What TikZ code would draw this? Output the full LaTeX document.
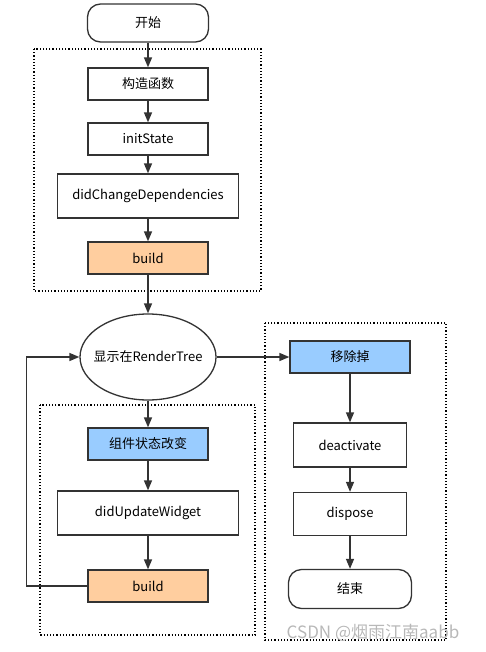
\documentclass[tikz,border=0pt]{standalone}
\usepackage{fontspec}
\newfontfamily\cjk{Noto Sans CJK SC}
\usetikzlibrary{arrows.meta,positioning,shapes.geometric}
\definecolor{lcDark}{HTML}{333333}
\definecolor{lcOrange}{HTML}{FFCE9F}
\definecolor{lcBlue}{HTML}{99CCFF}
\definecolor{lcMark}{HTML}{B8B8B8}
\tikzset{
  lc box/.style={draw=lcDark, line width=1.3pt, fill=white, minimum height=32pt,
    minimum width=120pt, inner sep=0pt, font=\cjk\fontsize{13}{15}\selectfont},
  lc term/.style={lc box, rounded corners=13pt, minimum width=121pt, minimum height=38pt},
  lc frame/.style={draw=black, line width=1.2pt, dotted},
  lc arrow/.style={lcDark, line width=1.4pt, -{Triangle[length=10pt,width=8pt]}},
}

\begin{document}
\begin{tikzpicture}[x=1pt, y=-1pt, line join=miter]
  % fixed page: 485 x 652
  \useasboundingbox (0,0) rectangle (485,652);

  % --- dotted group frames ---
  \draw[lc frame] (34,49) rectangle (261,291);
  \draw[lc frame] (40,405) rectangle (255,635);
  \draw[lc frame] (265,323) rectangle (446,640);

  % --- creation ---
  \node[lc term] (start) at (148,23) {开始};
  \node[lc box] (ctor) at (148,84) {构造函数};
  \node[lc box] (init) at (148,139) {initState};
  \node[lc box, minimum width=181pt, minimum height=44pt] (deps) at (148,196)
    {didChangeDependencies};
  \node[lc box, fill=lcOrange] (buildA) at (148,258) {build};

  % --- displayed ---
  \node[ellipse, draw=lcDark, line width=1.3pt, fill=white, minimum width=136pt,
        minimum height=86pt, inner xsep=-9pt, inner ysep=0pt,
        font=\cjk\fontsize{13}{15}\selectfont]
    (shown) at (148,357) {显示在RenderTree};

  % --- update ---
  \node[lc box, fill=lcBlue] (change) at (148,444) {组件状态改变};
  \node[lc box, minimum width=181pt, minimum height=44pt] (update) at (148,513)
    {didUpdateWidget};
  \node[lc box, fill=lcOrange] (buildB) at (148,586) {build};

  % --- removal ---
  \node[lc box, fill=lcBlue] (remove) at (350,357) {移除掉};
  \node[lc box, minimum width=113pt, minimum height=44pt] (deact) at (350,445)
    {deactivate};
  \node[lc box, minimum width=113pt, minimum height=43pt] (dispose) at (350,514)
    {dispose};
  \node[lc term, minimum width=123pt, minimum height=39pt] (finish) at (350,589) {结束};

  % --- connectors ---
  \draw[lc arrow] (start) -- (ctor);
  \draw[lc arrow] (ctor) -- (init);
  \draw[lc arrow] (init) -- (deps);
  \draw[lc arrow] (deps) -- (buildA);
  \draw[lc arrow] (buildA) -- (shown);
  \draw[lc arrow] (shown) -- (change);
  \draw[lc arrow] (change) -- (update);
  \draw[lc arrow] (update) -- (buildB);
  \draw[lc arrow] (buildB.west) -- ++(-61,0) |- (shown.west);
  \draw[lc arrow] (shown.east) -- (remove.west);
  \draw[lc arrow] (remove) -- (deact);
  \draw[lc arrow] (deact) -- (dispose);
  \draw[lc arrow] (dispose) -- (finish);

  % watermark
  \node[lcMark, font=\cjk\fontsize{17}{19}\selectfont, inner sep=0pt] (mark)
    at (373,633) {CSDN @烟雨江南aabb};
\end{tikzpicture}
\end{document}
